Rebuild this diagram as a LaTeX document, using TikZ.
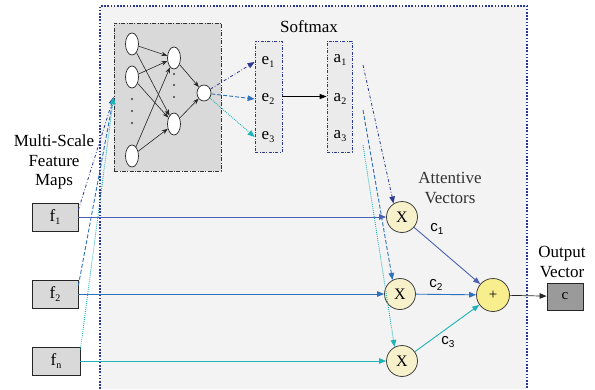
\documentclass[tikz,border=0pt]{standalone}
\usepackage{fontspec}
\setmainfont{Liberation Serif}
\newfontfamily\labelsans{Liberation Sans}
\usetikzlibrary{shapes.geometric,arrows.meta}

\definecolor{navy}{HTML}{2B3990}
\definecolor{navyline}{HTML}{4A60B2}
\definecolor{midblue}{HTML}{2E72BC}
\definecolor{tealc}{HTML}{1FB4B6}
\definecolor{panel}{HTML}{F3F3F3}
\definecolor{boxgray}{HTML}{D9D9D9}
\definecolor{stackgray}{HTML}{EBEBEB}
\definecolor{mulfill}{HTML}{F6F1CB}
\definecolor{addfill}{HTML}{F8EE8E}
\definecolor{outgray}{HTML}{9A9A9A}

% lowered index for e_1, a_1, f_1 ...
\newcommand\lowidx[1]{\raisebox{-0.45ex}{\fontsize{10}{10}\selectfont #1}}

\tikzset{
  every node/.style={font=\fontsize{17}{19.5}\selectfont, inner sep=0pt},
  neuron/.style={ellipse, draw=black!85, fill=white, line width=0.7pt,
                 minimum width=13pt, minimum height=22pt},
  nnedge/.style={-{Stealth[length=6pt,width=4.5pt]}, black!85, line width=0.6pt},
  tip/.style={-{Triangle[length=7pt,width=5.5pt]}},
  dashdotline/.style={dash pattern=on 3pt off 2pt on 0.8pt off 2pt, line width=0.8pt},
  dashline/.style={dash pattern=on 4pt off 2pt, line width=0.9pt},
  dotline/.style={dash pattern=on 0.9pt off 1.1pt, line width=0.9pt},
  stack/.style={draw=navy, fill=stackgray, line width=0.7pt,
                dash pattern=on 3pt off 1.5pt on 0.8pt off 1.5pt},
  featbox/.style={draw=black!85, fill=boxgray, line width=0.8pt,
                  minimum width=46pt, minimum height=28pt},
  mulnode/.style={circle, draw=black!75, fill=mulfill, line width=0.8pt,
                  minimum size=31pt, font=\fontsize{16}{16}\selectfont},
  clabel/.style={font=\labelsans\fontsize{15}{15}\selectfont},
}

\begin{document}
\begin{tikzpicture}[x=1pt,y=-1pt]
\useasboundingbox (0,0) rectangle (595,389);

% attention module panel
\fill[panel] (100,6) rectangle (527,389);

% small network that scores the features
\node[draw=black!80, fill=boxgray, line width=0.7pt,
      dash pattern=on 4pt off 1.5pt on 0.8pt off 1.5pt,
      minimum width=107pt, minimum height=148pt] (nn) at (167.5,97) {};
\node[neuron] (i1) at (132,44) {};
\node[neuron] (i2) at (132,77) {};
\node[neuron] (i4) at (132,156) {};
\foreach \y in {99,111,123} \fill[black!75] (132,\y) circle (1.2pt);
\node[neuron] (h1) at (174,58) {};
\node[neuron] (h2) at (174,124) {};
\foreach \y in {74,85,97} \fill[black!75] (174,\y) circle (1.2pt);
\node[neuron, minimum width=14pt, minimum height=16pt] (o) at (204,93) {};
\foreach \i in {i1,i2,i4} {
  \draw[nnedge] (\i) -- (h1);
  \draw[nnedge] (\i) -- (h2);
}
\draw[nnedge] (h1) -- (o);
\draw[nnedge] (h2) -- (o);

% score and weight stacks
\node[stack, minimum width=27pt, minimum height=111pt] (ebox) at (268.5,96.5) {};
\node[stack, minimum width=25pt, minimum height=111pt] (abox) at (339.5,96.5) {};
\node (e1) at (268,62) {e\lowidx{1}};
\node (e2) at (268,99) {e\lowidx{2}};
\node (e3) at (268,137) {e\lowidx{3}};
\node (a1) at (340,60) {a\lowidx{1}};
\node (a2) at (340,99) {a\lowidx{2}};
\node (a3) at (340,136) {a\lowidx{3}};
\node (softmax) at (309,27) {Softmax};
\draw[-{Triangle[length=7pt,width=5pt]}, black, line width=0.7pt] (ebox.east) -- (abox.west);

\draw[tip, navy, dashdotline] (o) -- (ebox.west |- e1);
\draw[tip, midblue, dashline] (o) -- (ebox.west |- e2);
\draw[tip, tealc, dotline] (o) -- (ebox.west |- e3);

% feature maps
\node[align=center] (mslabel) at (54,162) {Multi-Scale\\Feature\\Maps};
\node[featbox] (f1) at (55,217) {f\lowidx{1}};
\node[featbox] (f2) at (55,294) {f\lowidx{2}};
\node[featbox, minimum width=48pt] (fn) at (56,361) {f\lowidx{n}};

% weighting and summation
\node[mulnode] (x1) at (402,217) {X};
\node[mulnode] (x2) at (400,294) {X};
\node[mulnode] (x3) at (402,361) {X};
\node[circle, draw=black!75, fill=addfill, line width=0.8pt, minimum size=33pt,
      font=\fontsize{15}{15}\selectfont] (plus) at (493,295) {+};
\node[draw=black!85, fill=outgray, line width=0.8pt, minimum width=36pt,
      minimum height=27pt, font=\fontsize{15}{15}\selectfont] (cbox) at (565,296.5) {c};
\node[align=center] (outlabel) at (562,262) {Output\\Vector};
\node[align=center, text=black!80] (attlabel) at (450,188) {Attentive\\Vectors};
\node[clabel] (c1) at (437,229) {c\lowidx{1}};
\node[clabel] (c2) at (436,285) {c\lowidx{2}};
\node[clabel] (c3) at (448,342) {c\lowidx{3}};

% features into the scoring network
\draw[tip, navy, dashdotline] (f1.17) -- (nn.west);
\draw[tip, midblue, dashline] (f2.20) -- (nn.west);
\draw[tip, tealc, dotline] (fn.25) -- (nn.west);

% features into the multipliers
\draw[tip, navyline, line width=0.9pt] (f1.east) -- (x1.west);
\draw[tip, midblue, line width=0.9pt] (f2.east) -- (x2.west);
\draw[tip, tealc, line width=0.9pt] (fn.east) -- (x3.west);

% weights into the multipliers
\coordinate (a1s) at (363,65);
\coordinate (a2s) at (363,110);
\coordinate (a3s) at (363,145);
\draw[tip, navy, dashdotline] (a1s) -- (x1.122);
\draw[tip, midblue, dashline] (a2s) -- (x2.118);
\draw[tip, tealc, dotline] (a3s) -- (x3.118);

% weighted vectors summed
\draw[tip, navyline, line width=0.9pt] (x1) -- (plus);
\draw[tip, midblue, line width=0.9pt] (x2) -- (plus);
\draw[tip, tealc, line width=0.9pt] (x3) -- (plus);
\draw[tip, black!85, line width=0.7pt] (plus) -- (cbox);

% panel border
\draw[navy, line width=1.6pt, dash pattern=on 1.6pt off 1.6pt]
  (100,389) -- (100,6) -- (527,6) -- (527,389);
\end{tikzpicture}
\end{document}
